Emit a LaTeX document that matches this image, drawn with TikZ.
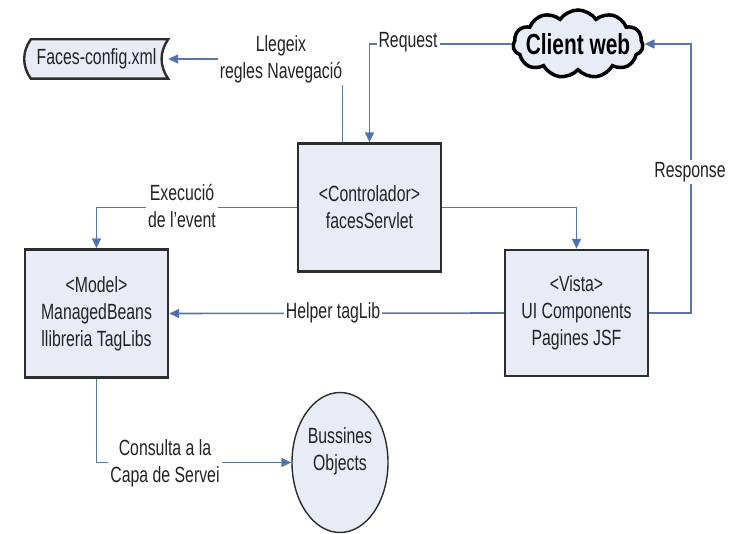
\documentclass[tikz,border=0pt]{standalone}
\usepackage{fontspec}
\setmainfont{Liberation Sans}[FakeStretch=0.72]
\usetikzlibrary{arrows.meta,shapes.geometric,shapes.symbols}

\definecolor{jsfFill}{RGB}{232,236,246}
\definecolor{jsfEdge}{RGB}{45,45,45}
\definecolor{jsfLine}{RGB}{88,118,168}
\definecolor{jsfTip}{RGB}{68,110,190}
\definecolor{jsfText}{RGB}{35,35,35}

\begin{document}
\begin{tikzpicture}[x=1pt, y=-1pt,
        txt/.style={font=\fontsize{22}{27}\selectfont, text=jsfText, align=center},
        layerbox/.style={txt, rectangle, draw=jsfEdge, line width=2.4pt, fill=jsfFill, minimum width=143pt, minimum height=128pt, inner sep=0pt},
        storebox/.style={txt, rectangle, draw=none, minimum width=143pt, minimum height=39pt, inner sep=0pt},
        cloudbox/.style={cloud, cloud puffs=11, cloud puff arc=110, aspect=2, draw=black, line width=3.5pt, fill=jsfFill, minimum width=130pt, minimum height=68pt, inner sep=0pt, font=\fontsize{29}{30}\selectfont\bfseries, text=black},
        objcircle/.style={txt, ellipse, draw=jsfEdge, line width=1.4pt, fill=jsfFill, minimum width=96pt, minimum height=140pt, inner sep=0pt},
        flow/.style={draw=jsfLine, line width=1.6pt, -{Triangle[length=10pt,width=9pt,fill=jsfTip]}},
        flowlabel/.style={txt, fill=white, inner sep=2pt}
    ]
        \useasboundingbox (0,0) rectangle (733,534);

        % nodes
        \node[storebox] (faces) at (96.5,59) {};
        \draw[draw=jsfEdge, line width=2.4pt, fill=jsfFill]
            ([xshift=6]faces.north west) -- (faces.north east) to[bend right=35] (faces.south east)
            -- ([xshift=6]faces.south west) to[bend left=35] ([xshift=6]faces.north west) -- cycle;
        \node[txt] at (faces) {Faces-config.xml};
        \node[cloudbox] (client) at (578,44) {\makebox[60pt]{Client web}};
        \node[layerbox] (ctrl) at (369.5,207.5) {<Controlador>\\facesServlet};
        \node[layerbox] (model) at (96.5,313.5) {<Model>\\ManagedBeans\\llibreria TagLibs};
        \node[layerbox, minimum height=126pt] (vista) at (576.5,313) {<Vista>\\UI Components\\Pagines JSF};
        \node[objcircle] (biz) at (340,462.5) {Bussines\\Objects\\\mbox{}};

        % connectors
        \draw[flow] (client.west) -| (ctrl.north);
        \draw[flow] ([xshift=-27]ctrl.north) |- (faces.east);
        \draw[flow] (ctrl.west) -| (model.north);
        \draw[flow] (ctrl.east) -| (vista.north);
        \draw[flow] (vista.west) -- (model.east);
        \draw[flow] (vista.east) -- ++(42,0) |- (client.east);
        \draw[flow] (model.south) |- (biz.west);

        % labels
        \node[flowlabel] (llegeix) at (281,59) {Llegeix\\regles Navegació};
        \node[flowlabel] (request) at (408,42) {Request};
        \node[flowlabel] (execucio) at (182,206) {Execució\\de l'event};
        \node[flowlabel] (helper) at (333,313) {Helper tagLib};
        \node[flowlabel] (response) at (690,172) {Response};
        \node[flowlabel] (consulta) at (165,463) {Consulta a la\\Capa de Servei};
    \end{tikzpicture}
\end{document}
